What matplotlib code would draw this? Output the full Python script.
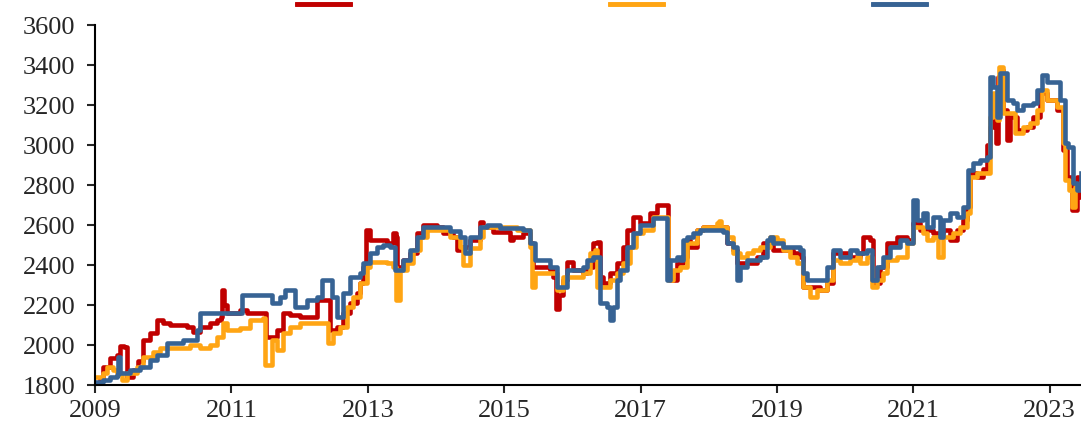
import matplotlib
matplotlib.use("Agg")
import matplotlib.pyplot as plt
import numpy as np

# decimal-year dates and values
red_t = [2009.00, 2009.07, 2009.12, 2009.22, 2009.32, 2009.37, 2009.43, 2009.47, 2009.56, 2009.63,
         2009.70, 2009.81, 2009.91, 2010.00, 2010.10, 2010.35, 2010.44, 2010.54, 2010.69, 2010.79,
         2010.85, 2010.86, 2010.89, 2010.94, 2011.13, 2011.23, 2011.46, 2011.51, 2011.67, 2011.76,
         2011.86, 2012.01, 2012.20, 2012.26, 2012.40, 2012.45, 2012.55, 2012.64, 2012.74, 2012.84,
         2012.89, 2012.93, 2012.97, 2013.03, 2013.28, 2013.37, 2013.41, 2013.43, 2013.52, 2013.62,
         2013.72, 2013.81, 2014.01, 2014.10, 2014.25, 2014.31, 2014.40, 2014.50, 2014.65, 2014.69,
         2014.84, 2015.09, 2015.13, 2015.28, 2015.38, 2015.42, 2015.52, 2015.67, 2015.72, 2015.76,
         2015.80, 2015.86, 2015.92, 2016.01, 2016.16, 2016.21, 2016.30, 2016.36, 2016.40, 2016.45,
         2016.55, 2016.65, 2016.74, 2016.80, 2016.89, 2016.99, 2017.14, 2017.24, 2017.38, 2017.40,
         2017.43, 2017.53, 2017.62, 2017.68, 2017.72, 2017.83, 2017.92, 2018.16, 2018.27, 2018.35,
         2018.41, 2018.56, 2018.71, 2018.79, 2018.90, 2018.94, 2019.15, 2019.23, 2019.34, 2019.38,
         2019.48, 2019.63, 2019.73, 2019.82, 2020.07, 2020.22, 2020.26, 2020.36, 2020.41, 2020.51,
         2020.61, 2020.76, 2020.91, 2021.00, 2021.10, 2021.29, 2021.43, 2021.54, 2021.64, 2021.73,
         2021.79, 2021.83, 2021.93, 2022.02, 2022.08, 2022.12, 2022.17, 2022.21, 2022.24, 2022.27,
         2022.31, 2022.37, 2022.42, 2022.52, 2022.67, 2022.75, 2022.86, 2022.96, 2023.11, 2023.19,
         2023.25, 2023.33, 2023.40, 2023.46]
red_v = [1810, 1830, 1890, 1935, 1950, 1995, 1990, 1840, 1875, 1920,
         2025, 2060, 2125, 2110, 2100, 2090, 2065, 2090, 2110, 2125,
         2140, 2275, 2200, 2160, 2175, 2160, 2160, 2040, 2075, 2160,
         2150, 2140, 2140, 2225, 2225, 2075, 2090, 2160, 2210, 2260,
         2310, 2390, 2575, 2525, 2510, 2560, 2540, 2390, 2425, 2460,
         2560, 2600, 2590, 2560, 2540, 2475, 2490, 2525, 2615, 2590,
         2565, 2525, 2540, 2560, 2510, 2390, 2390, 2375, 2340, 2180,
         2250, 2325, 2415, 2375, 2360, 2390, 2510, 2515, 2340, 2310,
         2360, 2410, 2490, 2575, 2640, 2610, 2660, 2700, 2700, 2360,
         2325, 2410, 2440, 2525, 2490, 2575, 2590, 2590, 2510, 2475,
         2410, 2410, 2440, 2510, 2525, 2475, 2475, 2460, 2440, 2290,
         2290, 2275, 2310, 2460, 2440, 2460, 2540, 2525, 2310, 2390,
         2510, 2540, 2525, 2610, 2575, 2560, 2575, 2525, 2575, 2625,
         2690, 2860, 2840, 2880, 3000, 3090, 3140, 3010, 3340, 3375,
         3175, 3025, 3140, 3075, 3090, 3140, 3260, 3225, 3175, 2975,
         2840, 2675, 2840, 2740]

orange_t = [2009.00, 2009.12, 2009.18, 2009.26, 2009.32, 2009.40, 2009.47, 2009.62, 2009.70, 2009.85,
            2009.95, 2010.29, 2010.39, 2010.54, 2010.69, 2010.79, 2010.88, 2010.94, 2011.13, 2011.27,
            2011.46, 2011.49, 2011.58, 2011.60, 2011.67, 2011.76, 2011.86, 2012.01, 2012.40, 2012.42,
            2012.49, 2012.59, 2012.70, 2012.78, 2012.89, 2012.99, 2013.03, 2013.28, 2013.37, 2013.41,
            2013.47, 2013.57, 2013.66, 2013.77, 2013.87, 2014.21, 2014.35, 2014.40, 2014.50, 2014.65,
            2014.69, 2015.19, 2015.33, 2015.38, 2015.41, 2015.45, 2015.67, 2015.77, 2015.86, 2016.16,
            2016.26, 2016.33, 2016.36, 2016.45, 2016.55, 2016.65, 2016.74, 2016.84, 2016.94, 2017.04,
            2017.18, 2017.33, 2017.40, 2017.48, 2017.58, 2017.68, 2017.83, 2017.92, 2018.12, 2018.15,
            2018.18, 2018.27, 2018.35, 2018.46, 2018.56, 2018.65, 2018.75, 2018.90, 2019.00, 2019.09,
            2019.19, 2019.29, 2019.37, 2019.38, 2019.48, 2019.59, 2019.73, 2019.82, 2019.92, 2020.07,
            2020.17, 2020.22, 2020.32, 2020.39, 2020.47, 2020.55, 2020.61, 2020.76, 2020.91, 2021.00,
            2021.14, 2021.20, 2021.29, 2021.36, 2021.43, 2021.58, 2021.68, 2021.79, 2021.83, 2021.93,
            2022.08, 2022.12, 2022.17, 2022.23, 2022.26, 2022.31, 2022.42, 2022.49, 2022.61, 2022.71,
            2022.81, 2022.89, 2022.96, 2023.11, 2023.19, 2023.22, 2023.29, 2023.33, 2023.37, 2023.46]
orange_v = [1840, 1860, 1890, 1875, 1860, 1825, 1860, 1890, 1940, 1965,
            1985, 1985, 2000, 1985, 2000, 2040, 2110, 2075, 2085, 2125,
            2135, 1900, 1900, 2025, 1975, 2060, 2090, 2110, 2110, 2010,
            2060, 2090, 2190, 2240, 2310, 2390, 2415, 2410, 2390, 2225,
            2375, 2410, 2475, 2540, 2575, 2540, 2490, 2400, 2485, 2540,
            2590, 2575, 2575, 2490, 2290, 2360, 2360, 2275, 2340, 2360,
            2460, 2475, 2290, 2290, 2325, 2360, 2410, 2490, 2560, 2575,
            2640, 2640, 2325, 2375, 2390, 2510, 2575, 2590, 2610, 2620,
            2590, 2540, 2460, 2440, 2460, 2475, 2490, 2540, 2525, 2475,
            2440, 2410, 2410, 2290, 2240, 2275, 2325, 2425, 2410, 2425,
            2440, 2410, 2440, 2290, 2325, 2360, 2425, 2440, 2510, 2590,
            2560, 2525, 2540, 2440, 2540, 2560, 2590, 2660, 2840, 2860,
            2860, 3140, 3260, 3125, 3390, 3160, 3160, 3060, 3090, 3110,
            3175, 3275, 3225, 3190, 3010, 2825, 2775, 2690, 2790, 2810]

blue_t = [2009.00, 2009.12, 2009.22, 2009.32, 2009.34, 2009.37, 2009.51, 2009.66, 2009.81, 2009.91,
          2010.06, 2010.29, 2010.50, 2010.54, 2011.13, 2011.16, 2011.57, 2011.60, 2011.71, 2011.79,
          2011.89, 2011.93, 2012.11, 2012.26, 2012.33, 2012.42, 2012.48, 2012.55, 2012.64, 2012.74,
          2012.89, 2012.93, 2013.03, 2013.13, 2013.22, 2013.33, 2013.40, 2013.52, 2013.62, 2013.72,
          2013.81, 2014.01, 2014.21, 2014.35, 2014.43, 2014.50, 2014.65, 2014.75, 2014.94, 2015.28,
          2015.38, 2015.45, 2015.57, 2015.67, 2015.77, 2015.86, 2015.92, 2016.07, 2016.16, 2016.21,
          2016.30, 2016.40, 2016.51, 2016.55, 2016.60, 2016.65, 2016.70, 2016.80, 2016.89, 2016.99,
          2017.14, 2017.18, 2017.33, 2017.39, 2017.43, 2017.53, 2017.58, 2017.62, 2017.68, 2017.77,
          2017.87, 2018.21, 2018.27, 2018.35, 2018.41, 2018.46, 2018.56, 2018.75, 2018.85, 2018.90,
          2018.94, 2019.09, 2019.34, 2019.38, 2019.44, 2019.63, 2019.73, 2019.82, 2019.92, 2020.07,
          2020.17, 2020.32, 2020.39, 2020.47, 2020.55, 2020.66, 2020.80, 2020.91, 2021.00, 2021.06,
          2021.14, 2021.20, 2021.29, 2021.39, 2021.43, 2021.54, 2021.64, 2021.73, 2021.80, 2021.87,
          2021.98, 2022.08, 2022.12, 2022.17, 2022.23, 2022.27, 2022.34, 2022.37, 2022.46, 2022.52,
          2022.61, 2022.75, 2022.81, 2022.89, 2022.96, 2023.05, 2023.15, 2023.22, 2023.27, 2023.34,
          2023.40, 2023.46]
blue_v = [1815, 1825, 1840, 1850, 1940, 1860, 1875, 1890, 1925, 1950,
          2010, 2025, 2075, 2160, 2160, 2250, 2250, 2210, 2240, 2275,
          2275, 2190, 2225, 2240, 2325, 2325, 2240, 2140, 2260, 2340,
          2360, 2410, 2460, 2490, 2500, 2490, 2375, 2425, 2475, 2540,
          2590, 2590, 2570, 2540, 2460, 2540, 2590, 2600, 2585, 2575,
          2510, 2425, 2425, 2390, 2290, 2290, 2375, 2375, 2390, 2425,
          2440, 2210, 2190, 2125, 2190, 2325, 2375, 2490, 2560, 2600,
          2600, 2635, 2635, 2325, 2425, 2440, 2425, 2525, 2540, 2560,
          2575, 2565, 2510, 2490, 2325, 2390, 2425, 2440, 2525, 2540,
          2510, 2490, 2475, 2360, 2325, 2325, 2390, 2475, 2440, 2475,
          2460, 2475, 2325, 2390, 2440, 2490, 2525, 2510, 2725, 2625,
          2660, 2590, 2640, 2540, 2625, 2660, 2640, 2690, 2875, 2910,
          2925, 2940, 3340, 3290, 3140, 3360, 3360, 3225, 3210, 3175,
          3200, 3210, 3275, 3350, 3315, 3315, 3225, 3010, 2990, 2810,
          2775, 2860]

year_ticks = list(range(2009, 2024, 2))
value_ticks = list(range(1800, 3601, 200))

plt.rcParams['font.family'] = ['Liberation Serif', 'DejaVu Serif']

fig = plt.figure(figsize=(10.81, 4.29), dpi=100)
ax = fig.add_axes([95 / 1081, 1 - 385 / 429, 1 - 95 / 1081, (385 - 25) / 429])

l1, = ax.plot(red_t, red_v, color="#C00000", lw=3.3, drawstyle="steps-post", solid_joinstyle="round")
l2, = ax.plot(orange_t, orange_v, color="#FFA514", lw=3.3, drawstyle="steps-post", solid_joinstyle="round")
l3, = ax.plot(blue_t, blue_v, color="#376394", lw=3.3, drawstyle="steps-post", solid_joinstyle="round")

ax.set_xlim(2009, 2023.46)
ax.set_ylim(1800, 3600)
ax.set_xticks(year_ticks)
ax.set_xticklabels([str(y) for y in year_ticks])
ax.set_yticks(value_ticks)

for s in ["top", "right"]:
    ax.spines[s].set_visible(False)
for s in ["left", "bottom"]:
    ax.spines[s].set_linewidth(1.5)
ax.tick_params(direction="out", length=6, width=1.5, labelsize=19, colors="#262626")
ax.tick_params(axis="x", pad=5)
ax.tick_params(axis="y", pad=8)

# legend entries carry no text in the original; one small legend per series
for handle, left in zip([l1, l2, l3], [297, 610, 873]):
    leg = fig.legend([handle], [""], frameon=False,
                     loc="center left", bbox_to_anchor=(left / 1081, 1 - 7 / 429),
                     borderpad=0, borderaxespad=0, handletextpad=0,
                     handlelength=2.0, fontsize=19)
    fig.add_artist(leg)

fig.savefig("out.png", dpi=100)
